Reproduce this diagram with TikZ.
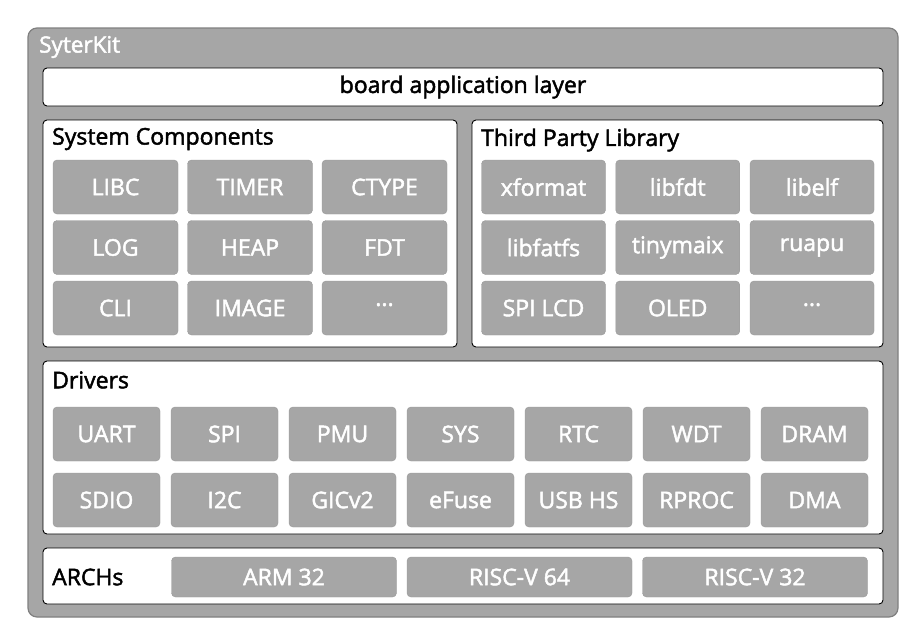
\documentclass[tikz,border=0pt]{standalone}
\usepackage{fontspec}
\setmainfont{Open Sans}[FakeBold=2]
\usetikzlibrary{positioning}
\definecolor{boxgray}{HTML}{A6A6A6}
\definecolor{edgegray}{HTML}{808080}

\begin{document}
\begin{tikzpicture}[x=1pt, y=-1pt, font=\fontsize{23}{26}\selectfont,
  frame/.style={draw=edgegray, fill=boxgray, line width=1.2pt, rounded corners=9pt},
  panel/.style={draw=black, fill=white, line width=0.9pt, rounded corners=4pt},
  item/.style={draw=edgegray!80, fill=boxgray, rounded corners=4pt, text=white, inner sep=0pt, minimum height=54pt},
  title/.style={anchor=west, inner sep=0pt}]
\useasboundingbox (0,0) rectangle (924,640);
\node[frame, minimum width=870pt, minimum height=589pt] (kit) at (463,322.5) {};
\node[title, text=white, font=\fontsize{22.5}{25}\selectfont] (kittitle) at (39,47) {SyterKit};
\node[panel, minimum width=840pt, minimum height=38pt] (app) at (463,87) {board application layer};
% system components and third party libraries
\node[panel, minimum width=414pt, minimum height=227pt] (sys) at (250,233.5) {};
\node[title] (systitle) at (52,139) {System Components};
\node[panel, minimum width=411pt, minimum height=227pt] (tpl) at (677.5,233.5) {};
\node[title] (tpltitle) at (481,140) {Third Party Library};
\foreach \lab [count=\i from 0] in {LIBC,TIMER,CTYPE,LOG,HEAP,FDT,CLI,IMAGE,···}{
  \pgfmathsetmacro\cx{115.5+134.5*mod(\i,3)}
  \pgfmathsetmacro\cy{187+60.5*int(\i/3)}
  \node[item, minimum width=125pt] (sys-\i) at (\cx,\cy) {\lab};}
\foreach \lab [count=\i from 0] in {xformat,libfdt,libelf,libfatfs,tinymaix,ruapu,SPI LCD,OLED,···}{
  \pgfmathsetmacro\cx{543.5+134.25*mod(\i,3)}
  \pgfmathsetmacro\cy{187+60.5*int(\i/3)}
  \node[item, minimum width=124pt] (tpl-\i) at (\cx,\cy) {\lab};}
% drivers
\node[panel, minimum width=840pt, minimum height=173pt] (drv) at (463,447.5) {};
\node[title] (drvtitle) at (52,380) {Drivers};
\foreach \lab [count=\i from 0] in {UART,SPI,PMU,SYS,RTC,WDT,DRAM,SDIO,I2C,GICv2,eFuse,USB HS,RPROC,DMA}{
  \pgfmathsetmacro\cx{106.5+118*mod(\i,7)}
  \pgfmathsetmacro\cy{434+66*int(\i/7)}
  \node[item, minimum width=107pt] (drv-\i) at (\cx,\cy) {\lab};}
% archs
\node[panel, minimum width=840pt, minimum height=56pt] (arch) at (463,576) {};
\node[title] (archtitle) at (52,577) {ARCHs};
\foreach \lab [count=\i from 0] in {ARM 32,RISC-V 64,RISC-V 32}{
  \pgfmathsetmacro\cx{284+235.5*\i}
  \node[item, minimum width=225pt, minimum height=40pt] (arch-\i) at (\cx,577) {\lab};}
\end{tikzpicture}
\end{document}
